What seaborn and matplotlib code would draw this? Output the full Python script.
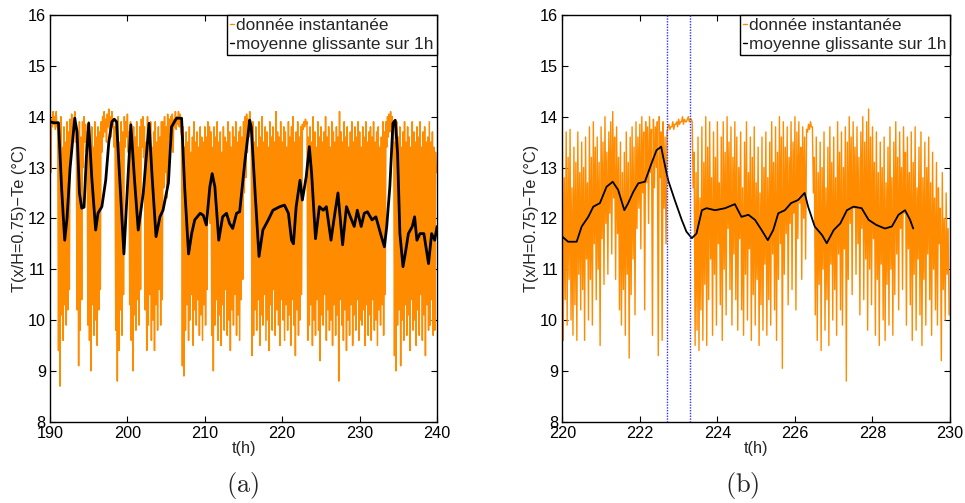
import numpy as np
import pandas as pd
import matplotlib
matplotlib.use("Agg")
import matplotlib.pyplot as plt
import seaborn as sns

# ---------------- data ----------------
# panel (a): instantaneous signal, read as alternating high / low samples every 0.1 h from 190 h
inst_a_start = 190.0
inst_a_step = 0.1
inst_a_high = [
    14.05, 13.95, 14.1, 14.0, 14.1,
    13.9, 13.6, 14.0, 13.4, 13.8, 13.5, 13.9, 13.7,
    13.95, 14.05, 13.9, 14.1,
    13.8, 13.5, 13.9, 13.6,
    13.9, 14.0, 13.85,
    13.7, 13.9, 13.5, 13.8, 13.4, 13.9, 13.6, 13.8, 13.7,
    13.9, 14.0, 14.1, 13.95, 14.05, 14.15, 14.0, 14.1, 13.95,
    13.8, 13.6, 14.0, 13.5, 13.9, 13.7,
    14.0, 13.9, 14.05,
    13.7, 13.9, 13.5, 13.8, 13.6, 13.9, 13.4, 13.8,
    13.95, 14.0,
    13.8, 13.5, 14.0, 13.6, 13.9, 13.4, 13.7, 13.9, 13.5, 13.8, 13.6, 13.9,
    13.9, 14.0, 13.8, 14.05,
    13.95, 14.0, 14.05, 13.95, 14.1, 14.0, 14.1, 14.05,
    13.6, 13.8, 13.4, 13.7, 13.5, 13.8, 13.3, 13.6, 13.9, 13.5, 13.7, 13.4, 13.8, 13.6, 13.5, 13.8, 13.6,
    13.9, 13.8,
    13.7, 13.4, 13.8, 13.6, 13.9, 13.5, 13.7, 13.3, 13.8, 13.6, 13.5, 13.9, 13.7, 13.4, 13.8, 13.6, 13.9,
    13.5, 13.7, 13.8, 13.6,
    13.9, 14.0, 14.05, 13.95, 14.1,
    13.7, 13.9, 13.5, 13.8, 13.4, 13.9, 13.6, 14.0, 13.5, 13.8, 13.7, 13.4, 13.9, 13.6, 13.8, 13.5, 14.1,
    13.7, 13.6, 13.9, 13.5, 13.8, 13.7, 13.4, 13.9, 13.6, 13.8, 14.0, 13.5, 13.7, 13.9, 13.6, 13.8,
    13.85, 13.9, 13.95,
    13.9, 13.6, 13.8, 13.5, 14.0, 13.7, 13.4, 13.9, 13.6, 13.8, 13.5, 13.7, 14.0, 13.6, 13.8, 13.4, 13.9,
    13.7, 13.5, 13.8, 13.6, 14.1, 13.7, 13.5, 13.9, 13.6, 13.8, 13.4, 13.7, 13.9, 13.5, 13.8, 13.6,
    13.9, 13.7, 13.4, 13.8, 13.6, 13.9, 13.5, 13.7, 13.8, 13.6, 13.9, 13.5, 13.7, 13.8, 13.4, 13.6, 13.9, 13.7,
    13.9, 14.0, 14.05, 14.1, 14.0,
    13.8, 13.5, 13.9, 13.6, 13.8, 13.4, 13.7, 13.9, 13.5, 13.8, 13.6, 13.4, 13.9, 13.7, 13.5, 13.8, 13.6,
    13.9, 13.4, 13.7, 13.8, 13.5, 13.6, 13.9, 13.5, 13.7, 13.4, 13.3,
]
inst_a_low = [
    12.9, 13.8, 13.85, 13.75, 13.8,
    9.4, 8.7, 10.1, 9.6, 10.3, 9.9, 10.2, 10.6,
    13.2, 13.6, 13.7, 13.5,
    10.2, 9.1, 9.8, 10.4,
    13.0, 13.5, 13.3,
    9.9, 9.6, 9.0, 10.3, 9.7, 10.0, 9.5, 10.2, 10.6,
    13.3, 13.6, 13.7, 13.5, 13.8, 13.75, 13.6, 13.8, 13.4,
    9.8, 8.8, 9.4, 10.2, 9.7, 10.5,
    13.4, 13.6, 13.3,
    10.3, 9.6, 9.0, 10.1, 9.8, 10.4, 9.9, 10.6,
    13.4, 13.2,
    10.2, 9.4, 9.9, 10.5, 9.6, 10.0, 9.4, 10.3, 9.8, 10.6, 9.9, 10.4,
    12.6, 12.9, 12.4, 13.1,
    13.6, 13.7, 13.3, 13.8, 13.75, 13.85, 13.8, 13.7,
    9.1, 8.9, 9.8, 10.3, 9.6, 10.0, 10.5, 9.5, 10.2, 9.9, 10.4, 9.7, 10.1, 9.6, 10.3, 9.9, 10.6,
    12.1, 11.9,
    9.7, 9.0, 9.9, 10.4, 9.6, 10.1, 9.5, 10.3, 9.8, 10.6, 9.7, 10.0, 9.4, 10.2, 9.9, 10.5, 9.7,
    10.1, 9.6, 10.4, 10.8,
    12.5, 12.8, 13.3, 13.6, 13.7,
    9.3, 9.7, 10.2, 9.8, 10.4, 9.5, 10.1, 9.9, 10.5, 9.6, 10.0, 9.4, 10.3, 9.8, 10.6, 9.7, 10.2,
    9.9, 9.5, 10.4, 10.0, 9.6, 10.3, 9.8, 10.1, 9.5, 10.4, 9.9, 9.3, 10.2, 9.7, 10.0, 10.5,
    13.75, 13.8, 13.85,
    9.6, 9.9, 10.3, 9.5, 10.0, 9.7, 10.4, 9.8, 9.2, 10.1, 9.9, 10.5, 9.6, 10.2, 9.8, 10.0, 9.5,
    10.3, 9.7, 10.1, 8.8, 10.4, 9.9, 9.6, 10.2, 9.4, 10.0, 9.7, 10.3, 9.5, 10.1, 9.8,
    10.4, 9.6, 10.0, 9.9, 10.2, 9.5, 10.3, 9.7, 10.1, 9.6, 10.4, 9.8, 10.0, 9.5, 10.2, 9.9, 10.3, 9.7, 10.5,
    13.4, 13.6, 13.7, 13.8, 13.75,
    9.3, 9.0, 9.9, 10.2, 9.1, 10.0, 9.6, 10.3, 9.7, 10.1, 9.4, 10.4, 9.8, 10.0, 9.5, 10.2, 9.7,
    10.5, 9.6, 10.1, 9.3, 10.3, 9.8, 9.9, 10.4, 9.7, 9.8, 12.9,
]

# panel (a): 1 h moving average
ma_a_t = [190.0, 190.5, 191.1, 191.5, 191.9, 192.2, 192.6, 193.2, 193.5, 193.8, 194.1, 194.4, 194.7,
          195.0, 195.4, 195.9, 196.2, 196.7, 197.2, 197.6, 198.0, 198.3, 198.6, 199.0, 199.55, 200.0,
          200.45, 200.9, 201.4, 202.05, 202.8, 203.2, 203.7, 204.2, 204.6, 205.3, 205.7, 206.35, 207.0,
          207.4, 207.9, 208.3, 208.7, 209.4, 209.8, 210.2, 210.65, 210.95, 211.3, 211.8, 212.3, 212.8,
          213.2, 213.6, 214.1, 214.5, 215.2, 215.8, 216.0, 216.5, 217.0, 217.5, 218.2, 218.8, 219.7,
          220.3, 220.8, 221.2, 221.45, 221.8, 222.3, 222.6, 223.1, 223.5, 223.8, 224.3, 224.8, 225.3,
          225.7, 226.3, 226.8, 227.2, 227.8, 228.3, 228.8, 229.3, 229.7, 230.2, 230.6, 231.0, 231.6,
          232.1, 232.7, 233.2, 233.5, 233.9, 234.3, 234.6, 234.9, 235.2, 235.6, 235.9, 236.3, 236.8,
          237.1, 237.4, 237.8, 238.3, 238.9, 239.3, 239.7, 240.0]
ma_a_v = [13.9, 13.88, 13.88, 12.6, 11.57, 12.0, 13.0, 13.97, 13.7, 12.5, 12.2, 12.22, 13.2,
          13.87, 12.8, 11.77, 12.1, 12.23, 12.75, 13.5, 13.9, 13.95, 13.9, 12.8, 11.3, 12.6,
          13.84, 12.8, 11.77, 12.5, 13.87, 12.8, 11.64, 12.03, 12.16, 12.7, 13.8, 13.97, 13.97,
          12.6, 11.3, 11.7, 11.97, 12.1, 12.06, 11.87, 12.62, 12.88, 12.62, 11.57, 12.03, 12.1,
          11.9, 11.8, 12.1, 12.13, 13.15, 13.93, 13.8, 12.5, 11.25, 11.77, 11.97, 12.16, 12.23,
          12.26, 12.1, 11.57, 11.5, 12.23, 12.75, 12.36, 12.82, 13.41, 12.88, 11.6, 12.23, 12.16,
          12.23, 11.57, 12.1, 12.5, 11.48, 12.23, 12.03, 11.84, 12.16, 11.84, 12.1, 12.13, 11.97,
          12.03, 11.7, 11.44, 11.84, 12.62, 13.87, 13.93, 13.28, 11.7, 11.05, 11.31, 11.7, 11.84,
          12.03, 11.57, 11.7, 11.7, 11.11, 11.7, 11.57, 11.84]

# panel (b): instantaneous signal, alternating high / low samples every 0.025 h from 220 h
inst_b_start = 220.0
inst_b_step = 0.025
inst_b_high = [
    13.6, 12.8, 13.7, 13.2, 13.75, 12.6, 13.4, 13.1, 13.7, 12.9,
    13.5, 13.0, 13.6, 12.7, 13.8, 13.2, 13.9, 13.4, 13.6, 13.1,
    13.8, 13.5, 14.0, 13.3, 13.7, 13.9, 14.1, 13.6, 13.8, 13.2,
    13.5, 12.9, 13.3, 13.7, 13.1, 13.6, 13.8, 13.4, 13.9, 13.6,
    13.85, 14.0, 13.7, 13.9, 13.8, 14.0, 13.75, 13.95, 13.8, 13.9,
    14.0, 13.7, 13.9,
    13.6, 13.7,
    13.85, 13.8, 13.9, 13.85, 13.9, 13.95, 13.9, 14.0, 13.95, 13.9, 14.0, 13.95,
    13.9, 13.3,
    12.9, 13.6, 12.4, 13.8, 13.1, 14.0, 13.4, 13.9, 12.8, 13.7,
    13.2, 13.9, 12.7, 13.6, 13.9, 13.3, 14.0, 13.5, 13.8, 13.2,
    13.9, 13.6, 13.0, 13.7, 12.6, 13.5, 13.9, 12.9, 13.6, 13.2,
    13.8, 12.7, 13.4, 12.5, 13.6, 13.0, 13.7, 12.8, 13.5, 13.9,
    13.1, 13.8, 13.3, 14.0, 13.6, 13.9, 13.4, 13.8, 13.2, 13.9,
    13.5, 14.0, 13.7, 13.9, 13.4, 13.8, 13.6,
    13.75, 13.85, 13.9, 13.8,
    13.2, 13.6, 12.9, 13.5, 13.0, 13.7, 12.6, 13.4, 13.8, 13.1,
    13.6, 12.8, 13.9, 13.3, 13.7, 13.0, 13.8, 13.5, 14.0, 13.6,
    13.9, 13.4, 13.8, 13.2, 13.7, 14.0, 13.5, 13.9, 14.15, 13.6,
    13.8, 13.1, 13.7, 12.9, 13.5, 13.0, 13.6, 12.7, 13.4, 13.8,
    12.8, 13.5, 13.9, 13.2, 13.7, 13.0, 13.8, 13.3, 13.6, 12.9,
    13.7, 13.1, 13.8, 12.6, 13.4, 13.7, 12.8, 13.5, 13.0, 13.6,
    12.7, 13.3, 12.4, 13.1, 12.6, 12.2, 12.9, 12.0, 12.5, 11.8,
]
inst_b_low = [
    9.6, 10.4, 9.9, 10.8, 10.0, 9.7, 10.3, 9.6, 10.9, 10.2,
    10.6, 9.6, 11.2, 10.0, 10.8, 9.9, 11.5, 10.4, 11.0, 9.5,
    11.6, 10.7, 11.9, 10.9, 12.1, 11.3, 12.4, 10.8, 11.7, 10.2,
    9.9, 10.6, 9.7, 10.9, 9.25, 10.5, 11.2, 10.1, 11.8, 12.2,
    11.4, 12.5, 10.2, 12.7, 11.9, 12.9, 9.7, 12.6, 13.0, 9.3,
    12.8, 9.6, 12.2,
    11.5, 13.8,
    13.75, 13.8, 13.75, 13.85, 13.8, 13.85, 13.9, 13.85, 13.9, 13.95, 13.9, 13.95,
    12.6, 9.5,
    9.8, 9.4, 10.2, 9.6, 10.7, 9.5, 10.4, 11.2, 9.7, 10.9,
    9.9, 11.5, 10.3, 9.6, 11.0, 10.1, 11.8, 10.6, 9.9, 11.3,
    10.4, 9.8, 11.6, 10.2, 9.7, 10.9, 10.0, 11.4, 9.6, 10.5,
    9.9, 10.8, 9.5, 10.3, 9.8, 11.1, 9.7, 10.4, 9.9, 11.3,
    10.2, 9.6, 10.8, 11.5, 9.05, 10.9, 11.7, 10.3, 11.9, 10.6,
    12.1, 10.2, 11.6, 12.3, 10.8, 12.0, 11.2,
    13.7, 13.75, 13.8, 12.5,
    10.1, 9.6, 10.7, 9.4, 11.0, 9.8, 10.4, 9.5, 11.1, 10.0,
    10.6, 9.7, 11.3, 10.2, 9.9, 11.4, 8.8, 10.8, 11.9, 10.5,
    12.2, 10.9, 11.5, 10.1, 11.8, 10.4, 11.2, 9.8, 11.0, 10.3,
    11.6, 9.7, 10.8, 9.5, 11.1, 10.0, 9.6, 10.7, 9.9, 11.0,
    9.7, 10.5, 11.3, 10.2, 11.8, 10.6, 12.1, 9.9, 11.4, 10.3,
    9.6, 10.9, 9.8, 11.2, 10.1, 9.5, 10.8, 9.9, 11.3, 10.4,
    9.7, 11.0, 10.2, 9.9, 11.5, 9.2, 10.6, 10.0, 10.9, 10.1,
]

# panel (b): 1 h moving average
ma_b_t = [220.0, 220.15, 220.37, 220.5, 220.67, 220.8, 220.97, 221.14, 221.3, 221.44, 221.6, 221.7,
          221.83, 221.96, 222.13, 222.3, 222.43, 222.55, 222.6, 222.73, 222.9, 223.08, 223.2, 223.34,
          223.46, 223.6, 223.72, 223.94, 224.2, 224.45, 224.62, 224.8, 224.97, 225.14, 225.3, 225.44,
          225.57, 225.74, 225.9, 226.08, 226.25, 226.34, 226.51, 226.7, 226.82, 227.0, 227.17, 227.34,
          227.51, 227.72, 227.9, 228.1, 228.32, 228.5, 228.67, 228.84, 228.97, 229.05]
ma_b_v = [11.64, 11.54, 11.54, 11.84, 12.03, 12.23, 12.3, 12.62, 12.72, 12.56, 12.16, 12.3,
          12.52, 12.69, 12.72, 13.08, 13.34, 13.41, 13.21, 12.75, 12.36, 11.97, 11.74, 11.61,
          11.7, 12.16, 12.2, 12.16, 12.2, 12.28, 12.03, 12.07, 11.97, 11.77, 11.57, 11.77,
          12.1, 12.16, 12.3, 12.36, 12.5, 12.23, 11.84, 11.67, 11.51, 11.77, 11.9, 12.16,
          12.23, 12.2, 11.97, 11.87, 11.8, 11.84, 12.07, 12.16, 11.97, 11.8]

vlines_b = [222.7, 223.3]

xlim_a = (190, 240)
xticks_a = [190, 200, 210, 220, 230, 240]
xlim_b = (220, 230)
xticks_b = [220, 222, 224, 226, 228, 230]
ylim = (8, 16)
yticks = [8, 9, 10, 11, 12, 13, 14, 15, 16]

label_inst = "donnée instantanée"
label_ma = "moyenne glissante sur 1h"
xlabel = "t(h)"
ylabel = "T(x/H=0.75)\u2212Te (°C)"
captions = [r"$(\mathrm{a})$", r"$(\mathrm{b})$"]

# ---------------- style ----------------
sns.set_theme(style="ticks")
plt.rcParams["font.family"] = ["Liberation Sans", "DejaVu Sans"]
plt.rcParams["mathtext.fontset"] = "cm"
FS = 11.7
FS_LEG = 12.4
ORANGE = "#ff8c00"


def interleave(start, step, high, low):
    y = np.empty(2 * len(high))
    y[0::2] = high
    y[1::2] = low
    t = start + step * np.arange(len(y))
    return pd.DataFrame({"t": t, "T": y})


df_a = interleave(inst_a_start, inst_a_step, inst_a_high, inst_a_low)
df_b = interleave(inst_b_start, inst_b_step, inst_b_high, inst_b_low)
ma_a = pd.DataFrame({"t": ma_a_t, "T": ma_a_v})
ma_b = pd.DataFrame({"t": ma_b_t, "T": ma_b_v})

fig = plt.figure(figsize=(9.65, 5.03), dpi=100)
ax_a = fig.add_axes([0.0518, 0.1616, 0.4011, 0.8086])
ax_b = fig.add_axes([0.5827, 0.1616, 0.4018, 0.8086])

panels = [
    (ax_a, df_a, ma_a, xlim_a, xticks_a, 1.1, 2.0),
    (ax_b, df_b, ma_b, xlim_b, xticks_b, 1.0, 1.3),
]

for ax, dfi, dfm, xl, xt, lw_i, lw_m in panels:
    sns.lineplot(data=dfi, x="t", y="T", ax=ax, color=ORANGE, lw=lw_i, sort=False,
                 estimator=None, label=label_inst, zorder=2)
    sns.lineplot(data=dfm, x="t", y="T", ax=ax, color="black", lw=lw_m, sort=False,
                 estimator=None, label=label_ma, zorder=4)
    ax.set_xlim(*xl)
    ax.set_ylim(*ylim)
    ax.set_xticks(xt)
    ax.set_yticks(yticks)
    ax.tick_params(direction="in", length=4, width=0.8, labelsize=FS, pad=3,
                   top=True, right=True, colors="black")
    for sp in ax.spines.values():
        sp.set_visible(True)
        sp.set_linewidth(1.0)
        sp.set_color("black")
    ax.set_xlabel(xlabel, fontsize=FS, labelpad=0)
    ax.set_ylabel(ylabel, fontsize=FS, labelpad=0.5)
    leg = ax.legend(loc="upper right", borderaxespad=0, fontsize=FS_LEG, frameon=True,
                    fancybox=False, framealpha=1, edgecolor="black", handlelength=0.25,
                    handletextpad=0.1, borderpad=0.2, labelspacing=0.2)
    leg.get_frame().set_linewidth(1.0)
    for h in leg.get_lines():
        h.set_linewidth(1.0)
    leg.set_zorder(10)

for xv in vlines_b:
    ax_b.axvline(xv, color="#3030ff", ls=(0, (1, 1)), lw=1.0, zorder=5)

fig.text(0.2518, 0.035, captions[0], fontsize=19, ha="center", va="center")
fig.text(0.769, 0.035, captions[1], fontsize=19, ha="center", va="center")

fig.savefig("out.png", dpi=100)
